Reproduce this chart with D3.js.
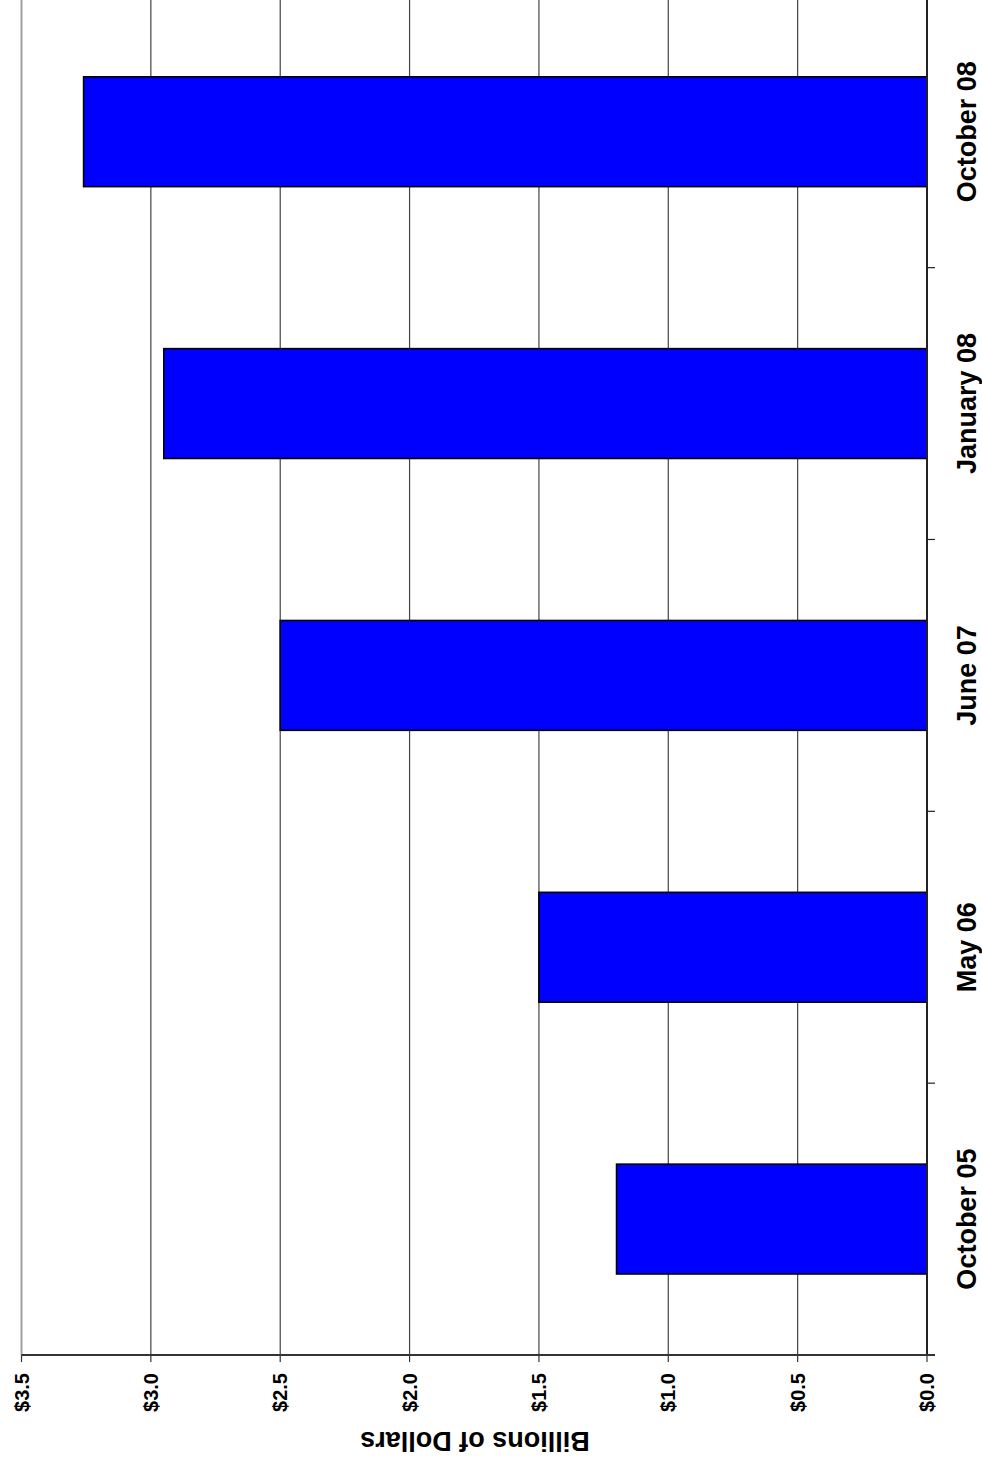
<!DOCTYPE html>
<html>
<head>
<meta charset="utf-8">
<script src="https://cdn.jsdelivr.net/npm/d3@7"></script>
<style>
  html, body { margin: 0; padding: 0; background: #fff; }
  svg { display: block; }
  text { font-family: Arial, "Liberation Sans", Helvetica, sans-serif; font-weight: bold; fill: #000; }
</style>
</head>
<body>
<script>
// ---- data ----
const categories = ["October 05", "May 06", "June 07", "January 08", "October 08"];
const values = [1.2, 1.5, 2.5, 2.95, 3.26];
const tickValues = [0, 0.5, 1.0, 1.5, 2.0, 2.5, 3.0, 3.5];
const tickLabels = ["$0.0", "$0.5", "$1.0", "$1.5", "$2.0", "$2.5", "$3.0", "$3.5"];
const axisTitle = "Billions of Dollars";

const PW = 982, PH = 1467;
// Chart is drawn as a column chart in an unrotated frame (width PH, height PW),
// then rotated -90 degrees onto the page.
const svg = d3.select("body").append("svg").attr("width", PW).attr("height", PH);
svg.append("rect").attr("width", PW).attr("height", PH).attr("fill", "#fff");
const g = svg.append("g").attr("transform", `translate(0,${PH}) rotate(-90)`);

const axisX = 112, plotRight = 1471.2;
const x = d3.scaleBand().domain(categories).range([axisX, plotRight])
  .paddingInner(0.596).paddingOuter(0.298);
const y = d3.scaleLinear().domain([0, 3.5]).range([927, 21.5]);
const step = x.step();

// gridlines
g.selectAll("line.grid").data(tickValues.filter(v => v > 0)).enter().append("line")
  .attr("x1", axisX).attr("x2", plotRight)
  .attr("y1", d => y(d)).attr("y2", d => y(d))
  .attr("stroke", d => d === 3.5 ? "#a0a0a0" : "#444")
  .attr("stroke-width", d => d === 3.5 ? 2 : 1.2);

// bars
g.selectAll("rect.bar").data(categories).enter().append("rect")
  .attr("x", d => x(d))
  .attr("width", x.bandwidth())
  .attr("y", (d, i) => y(values[i]))
  .attr("height", (d, i) => y(0) - y(values[i]))
  .attr("fill", "#0000ff").attr("stroke", "#000").attr("stroke-width", 1.6);

// zero (category) axis
g.append("line").attr("x1", axisX).attr("x2", plotRight)
  .attr("y1", y(0)).attr("y2", y(0)).attr("stroke", "#222").attr("stroke-width", 2);
// category ticks at band boundaries
g.selectAll("line.ctick").data(d3.range(1, categories.length + 1)).enter().append("line")
  .attr("x1", i => axisX + i * step).attr("x2", i => axisX + i * step)
  .attr("y1", y(0)).attr("y2", y(0) + 8)
  .attr("stroke", "#222").attr("stroke-width", 1.2);

// value axis
g.append("line").attr("x1", axisX).attr("x2", axisX)
  .attr("y1", y(3.5)).attr("y2", y(0) + 8).attr("stroke", "#333").attr("stroke-width", 2);
g.selectAll("line.vtick").data(tickValues).enter().append("line")
  .attr("x1", axisX - 7).attr("x2", axisX)
  .attr("y1", d => y(d)).attr("y2", d => y(d))
  .attr("stroke", "#333").attr("stroke-width", 1.2);
g.selectAll("text.vlab").data(tickValues).enter().append("text")
  .attr("x", 94).attr("y", d => y(d))
  .attr("text-anchor", "end").attr("dominant-baseline", "central")
  .attr("font-size", 20)
  .text((d, i) => tickLabels[i]);

// category labels
g.selectAll("text.clab").data(categories).enter().append("text")
  .attr("x", d => x(d) + x.bandwidth() / 2).attr("y", 975.5)
  .attr("text-anchor", "middle").attr("font-size", 27)
  .text(d => d);

// axis title
g.append("text")
  .attr("transform", `translate(35,475) rotate(-90)`)
  .attr("text-anchor", "middle").attr("font-size", 27)
  .text(axisTitle);
</script>
</body>
</html>
